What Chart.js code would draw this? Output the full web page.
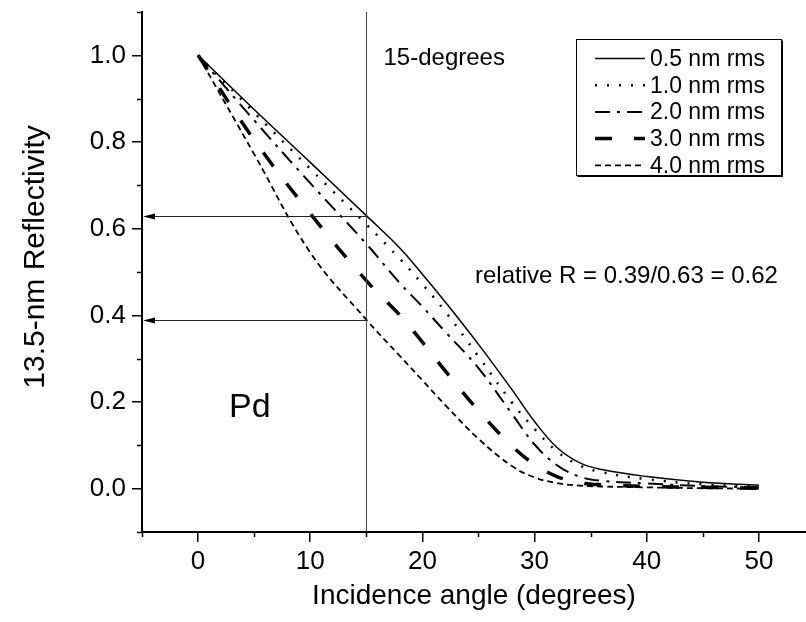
<!DOCTYPE html>
<html>
<head>
<meta charset="utf-8">
<script src="https://cdn.jsdelivr.net/npm/chart.js@4/dist/chart.umd.min.js"></script>
<style>
  html, body { margin: 0; padding: 0; background: #fff; }
  #wrap { width: 806px; height: 622px; }
</style>
</head>
<body>
<div id="wrap"><canvas id="reflChart"></canvas></div>
<script>
// incidence angles (degrees) where the curves were read
const angles = [0, 5, 10, 15, 18, 20, 22, 25, 28, 30, 32, 34, 36, 40, 45, 50];

const labels = ['0.5 nm rms', '1.0 nm rms', '2.0 nm rms', '3.0 nm rms', '4.0 nm rms'];
const rms05 = [1.0, 0.875, 0.753, 0.63, 0.555, 0.495, 0.432, 0.333, 0.228, 0.155, 0.095, 0.06, 0.044, 0.028, 0.015, 0.008];
const rms10 = [1.0, 0.868, 0.738, 0.61, 0.53, 0.472, 0.41, 0.305, 0.198, 0.138, 0.086, 0.054, 0.038, 0.022, 0.010, 0.005];
const rms20 = [1.0, 0.85, 0.705, 0.565, 0.474, 0.42, 0.363, 0.278, 0.172, 0.102, 0.054, 0.028, 0.018, 0.012, 0.006, 0.003];
const rms30 = [1.0, 0.805, 0.635, 0.48, 0.40, 0.338, 0.273, 0.18, 0.098, 0.056, 0.028, 0.014, 0.009, 0.005, 0.003, 0.001];
const rms40 = [1.0, 0.772, 0.545, 0.39, 0.306, 0.25, 0.194, 0.115, 0.052, 0.026, 0.013, 0.007, 0.005, 0.003, 0.001, 0.0];

const xTicks = [0, 10, 20, 30, 40, 50];
const xMinorTicks = [-5, 5, 15, 25, 35, 45];
const yTicks = [0.0, 0.2, 0.4, 0.6, 0.8, 1.0];
const yMinorTicks = [-0.1, 0.1, 0.3, 0.5, 0.7, 0.9, 1.1];

// 15-degree marker and the two readings taken from it
const markAngle = 15;
const markValues = [0.63, 0.39];

const FONT = "'Liberation Sans', Arial, sans-serif";

const styles = [
    { borderWidth: 1.5, borderDash: [] },
    { borderWidth: 2.5, borderDash: [2, 10] },
    { borderWidth: 2, borderDash: [15, 7, 3, 7] },
    { borderWidth: 3.5, borderDash: [17, 22] },
    { borderWidth: 1.8, borderDash: [6, 4] }
];

const series = [rms05, rms10, rms20, rms30, rms40];

const datasets = series.map((vals, i) => ({
    label: labels[i],
    data: angles.map((a, j) => ({ x: a, y: vals[j] })),
    borderColor: '#000',
    borderWidth: styles[i].borderWidth,
    borderDash: styles[i].borderDash,
    pointRadius: 0,
    tension: 0.4,
    fill: false
}));

// minor ticks, 15-degree line, arrows, texts and the boxed legend
const extras = {
    id: 'extras',
    afterDraw(chart) {
        const { ctx, chartArea: a, scales: { x, y } } = chart;
        ctx.save();
        ctx.strokeStyle = '#000';
        ctx.lineWidth = 1.5;
        ctx.setLineDash([]);
        xMinorTicks.forEach(v => {
            const px = Math.round(x.getPixelForValue(v)) + 0.5;
            ctx.beginPath();
            ctx.moveTo(px, a.bottom);
            ctx.lineTo(px, a.bottom + 5);
            ctx.stroke();
        });
        yMinorTicks.forEach(v => {
            const py = Math.round(y.getPixelForValue(v)) + 0.5;
            ctx.beginPath();
            ctx.moveTo(a.left, py);
            ctx.lineTo(a.left - 5, py);
            ctx.stroke();
        });

        // vertical line at 15 degrees
        const x15 = Math.round(x.getPixelForValue(markAngle)) + 0.5;
        ctx.strokeStyle = '#444';
        ctx.lineWidth = 1;
        ctx.beginPath();
        ctx.moveTo(x15, a.top);
        ctx.lineTo(x15, a.bottom);
        ctx.stroke();

        // arrows back to the y axis
        ctx.strokeStyle = '#222';
        ctx.fillStyle = '#000';
        markValues.forEach(v => {
            const py = Math.round(y.getPixelForValue(v)) + 0.5;
            ctx.beginPath();
            ctx.moveTo(x15, py);
            ctx.lineTo(a.left + 4, py);
            ctx.stroke();
            ctx.beginPath();
            ctx.moveTo(a.left + 1, py);
            ctx.lineTo(a.left + 13, py - 3);
            ctx.lineTo(a.left + 13, py + 3);
            ctx.closePath();
            ctx.fill();
        });

        // texts
        ctx.fillStyle = '#000';
        ctx.textBaseline = 'alphabetic';
        ctx.textAlign = 'left';
        ctx.font = '24px ' + FONT;
        ctx.fillText('15-degrees', x15 + 17, 65);
        ctx.fillText('relative R = 0.39/0.63 = 0.62', 475, 283);
        ctx.font = '34px ' + FONT;
        ctx.fillText('Pd', 229, 417);

        // y axis title, a bit above the axis centre as in the original
        ctx.save();
        ctx.translate(36, 257);
        ctx.rotate(-Math.PI / 2);
        ctx.textAlign = 'center';
        ctx.textBaseline = 'middle';
        ctx.font = '30px ' + FONT;
        ctx.fillText('13.5-nm Reflectivity', 0, 0);
        ctx.restore();

        // legend
        const lx = 576.5, ly = 39.5, lw = 205, lh = 136;
        ctx.fillStyle = '#fff';
        ctx.fillRect(lx, ly, lw, lh);
        ctx.strokeStyle = '#000';
        ctx.lineWidth = 1;
        ctx.strokeRect(lx, ly, lw, lh);
        ctx.lineWidth = 2;
        ctx.beginPath();
        ctx.moveTo(lx + lw + 0.5, ly + 1);
        ctx.lineTo(lx + lw + 0.5, ly + lh + 0.5);
        ctx.lineTo(lx + 1, ly + lh + 0.5);
        ctx.stroke();
        ctx.font = '23px ' + FONT;
        ctx.textBaseline = 'middle';
        chart.data.datasets.forEach((ds, i) => {
            const ry = 58.5 + i * 26.7;
            ctx.strokeStyle = '#000';
            ctx.lineWidth = ds.borderWidth;
            ctx.setLineDash(ds.borderDash);
            ctx.beginPath();
            ctx.moveTo(595, ry);
            ctx.lineTo(645, ry);
            ctx.stroke();
            ctx.setLineDash([]);
            ctx.fillStyle = '#000';
            ctx.fillText(ds.label, 650, ry + 1);
        });
        ctx.restore();
    }
};

new Chart(document.getElementById('reflChart'), {
    type: 'line',
    data: { datasets: datasets },
    options: {
        responsive: true,
        maintainAspectRatio: false,
        animation: false,
        layout: { padding: { top: 12, right: 0, bottom: 0, left: 0 } },
        plugins: {
            legend: { display: false },
            tooltip: { enabled: false }
        },
        scales: {
            x: {
                type: 'linear',
                min: -5,
                max: 54.2,
                afterBuildTicks: s => { s.ticks = xTicks.map(v => ({ value: v })); },
                afterFit: s => { s.height = 90; s.paddingLeft = 0; s.paddingRight = 0; },
                border: { display: true, color: '#000', width: 2 },
                grid: { drawOnChartArea: false, drawTicks: true, tickLength: 10, color: '#000', lineWidth: 1.5 },
                ticks: {
                    color: '#000',
                    padding: 4,
                    maxRotation: 0,
                    font: { family: FONT, size: 26 },
                    callback: v => String(v)
                },
                title: {
                    display: true,
                    text: 'Incidence angle (degrees)',
                    color: '#000',
                    font: { family: FONT, size: 28 },
                    padding: { top: 0, bottom: 9 }
                }
            },
            y: {
                type: 'linear',
                min: -0.1,
                max: 1.1,
                afterBuildTicks: s => { s.ticks = yTicks.map(v => ({ value: v })); },
                afterFit: s => { s.width = 142; s.paddingTop = 0; s.paddingBottom = 0; },
                border: { display: true, color: '#000', width: 2 },
                grid: { drawOnChartArea: false, drawTicks: true, tickLength: 10, color: '#000', lineWidth: 1.5 },
                ticks: {
                    color: '#000',
                    padding: 6,
                    font: { family: FONT, size: 26 },
                    callback: v => Number(v).toFixed(1)
                }
            }
        }
    },
    plugins: [extras]
});
</script>
</body>
</html>
